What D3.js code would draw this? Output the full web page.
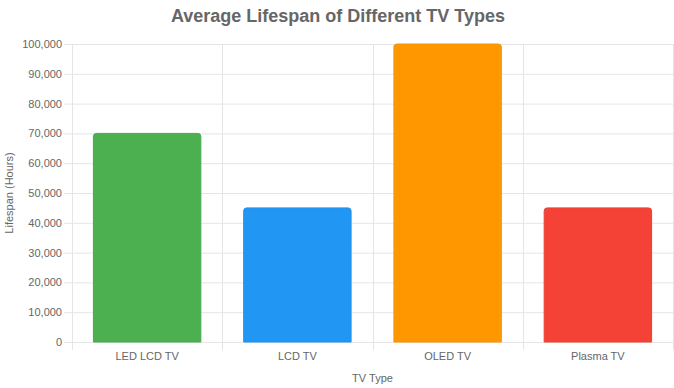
<!DOCTYPE html>
<html>
<head>
<meta charset="utf-8">
<script src="https://cdn.jsdelivr.net/npm/d3@7"></script>
<style>
  html, body { margin: 0; padding: 0; background: #fff; }
  text { font-family: "Liberation Sans", Arial, Helvetica, sans-serif; fill: #666; }
</style>
</head>
<body>
<div id="chart"></div>
<script>
// chart data
var categories = ['LED LCD TV', 'LCD TV', 'OLED TV', 'Plasma TV'];
var lifespans  = [70000, 45000, 100000, 45000];
var barColors  = ['#4CAF50', '#2196F3', '#FF9800', '#F44336'];
var yTicks     = [0, 10000, 20000, 30000, 40000, 50000, 60000, 70000, 80000, 90000, 100000];

var width = 674, height = 388;
var margin = {top: 44, right: 1, bottom: 46, left: 72};
var gridColor = '#e5e5e5';

var svg = d3.select('#chart').append('svg')
  .attr('width', width)
  .attr('height', height);

// Title
svg.append('text')
  .attr('x', width / 2 + 1)
  .attr('y', 22)
  .attr('text-anchor', 'middle')
  .style('font-size', '18px')
  .style('font-weight', 'bold')
  .text('Average Lifespan of Different TV Types');

var x = d3.scaleBand()
  .domain(categories)
  .range([margin.left, width - margin.right]);

var y = d3.scaleLinear()
  .domain([0, 100000])
  .range([height - margin.bottom, margin.top]);

var fmt = d3.format(',');

// horizontal grid + y ticks
var yAxis = svg.append('g')
  .attr('transform', 'translate(' + margin.left + ',0)')
  .call(d3.axisLeft(y).tickValues(yTicks).tickFormat(fmt)
        .tickSize(-(width - margin.right - margin.left)).tickPadding(10));
yAxis.select('.domain').remove();
yAxis.selectAll('.tick line')
  .attr('stroke', gridColor)
  .attr('x1', -8);
yAxis.selectAll('.tick text')
  .style('font-size', '11px')
  .attr('fill', '#666');

// vertical grid lines at band edges
var edges = categories.map(function(c) { return x(c); }).concat([width - margin.right]);
svg.append('g').selectAll('line')
  .data(edges)
  .join('line')
    .attr('x1', function(d) { return Math.round(d) + 0.5; })
    .attr('x2', function(d) { return Math.round(d) + 0.5; })
    .attr('y1', margin.top)
    .attr('y2', height - margin.bottom + 8)
    .attr('stroke', gridColor);

// x tick labels
var xAxis = svg.append('g')
  .attr('transform', 'translate(0,' + (height - margin.bottom) + ')')
  .call(d3.axisBottom(x).tickSize(0).tickPadding(10));
xAxis.select('.domain')
  .attr('stroke', gridColor);
xAxis.selectAll('.tick text')
  .style('font-size', '11px')
  .attr('fill', '#666');

// bars with rounded top corners
var barW = x.bandwidth() * 0.715;
var r = 3;
function barPath(d, i) {
  var x0 = x(categories[i]) + (x.bandwidth() - barW) / 2;
  var x1 = x0 + barW;
  var y0 = y(0), y1 = y(d);
  return 'M' + x0 + ',' + y0 +
         'V' + (y1 + r) +
         'Q' + x0 + ',' + y1 + ' ' + (x0 + r) + ',' + y1 +
         'H' + (x1 - r) +
         'Q' + x1 + ',' + y1 + ' ' + x1 + ',' + (y1 + r) +
         'V' + y0 + 'Z';
}
svg.append('g').selectAll('path')
  .data(lifespans)
  .join('path')
    .attr('d', barPath)
    .attr('fill', function(d, i) { return barColors[i]; })
    .attr('stroke', function(d, i) { return d3.color(barColors[i]).darker(0.1); })
    .attr('stroke-width', 1);

// axis titles
svg.append('text')
  .attr('x', (margin.left + width - margin.right) / 2)
  .attr('y', 382)
  .attr('text-anchor', 'middle')
  .style('font-size', '11px')
  .text('TV Type');

svg.append('text')
  .attr('transform', 'translate(13,' + ((margin.top + height - margin.bottom) / 2) + ') rotate(-90)')
  .attr('text-anchor', 'middle')
  .style('font-size', '11px')
  .text('Lifespan (Hours)');
</script>
</body>
</html>
